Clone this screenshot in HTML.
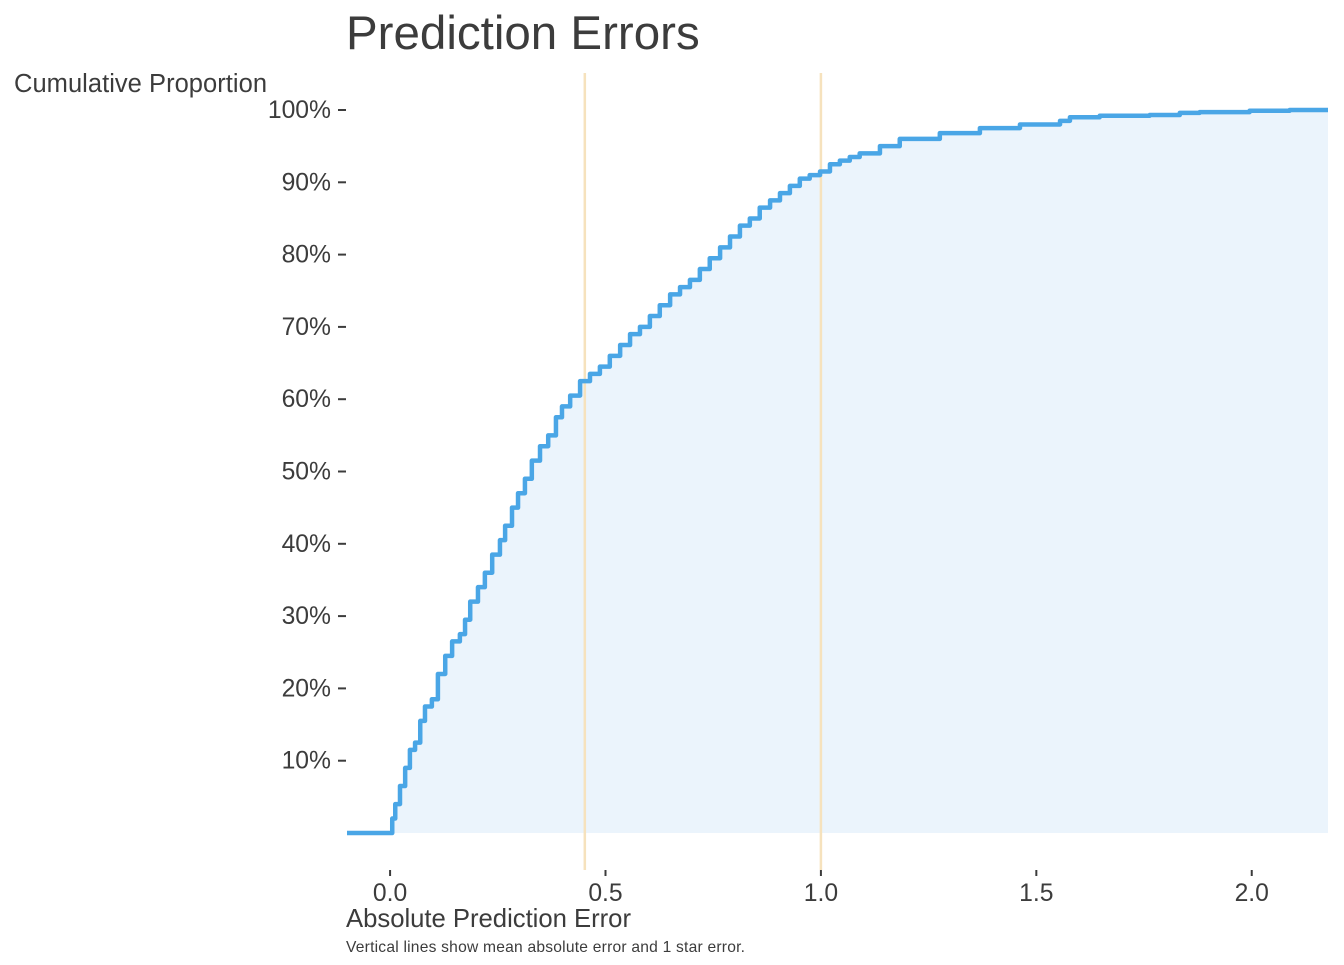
<!DOCTYPE html>
<html><head><meta charset="utf-8"><style>
body{margin:0;background:#fff;}
svg text{font-family:"Liberation Sans",Arial,sans-serif;fill:#3c3c3c;}
</style></head><body>
<svg id="chart" width="1344" height="960">
<text x="346" y="49" font-size="47.5">Prediction Errors</text>
<text x="14" y="92" font-size="25.5" textLength="253">Cumulative Proportion</text>
<text x="346" y="927" font-size="25.7" textLength="285">Absolute Prediction Error</text>
<text x="346" y="952" font-size="15.6" textLength="399">Vertical lines show mean absolute error and 1 star error.</text>
<g id="plot"></g>
</svg>
<script>
const errs=[0.005,0.012,0.023,0.035,0.046,0.058,0.070,0.081,0.097,0.111,0.128,0.144,0.162,0.174,0.186,0.204,0.220,0.237,0.255,0.267,0.283,0.297,0.313,0.329,0.348,0.367,0.385,0.399,0.418,0.441,0.464,0.487,0.510,0.534,0.557,0.580,0.603,0.626,0.650,0.673,0.696,0.719,0.742,0.766,0.789,0.812,0.835,0.858,0.882,0.905,0.928,0.951,0.974,0.998,1.021,1.044,1.067,1.090,1.137,1.183,1.276,1.369,1.462,1.555,1.578,1.647,1.763,1.833,1.879,1.995,2.088];
const props=[2,4,6.5,9,11.5,12.5,15.5,17.5,18.5,22,24.5,26.5,27.5,29.5,32,34,36,38.5,40.5,42.5,45,47,49,51.5,53.5,55,57.5,59,60.5,62.5,63.5,64.5,66,67.5,69,70,71.5,73,74.5,75.5,76.5,78,79.5,81,82.5,84,85,86.5,87.5,88.5,89.5,90.5,91,91.5,92.5,93,93.5,94,95,96,96.8,97.5,98,98.5,99,99.2,99.3,99.6,99.7,99.9,100];
const vlines=[0.452,1.0];
const xTicks=[0,0.5,1.0,1.5,2.0];
const xTickLabels=["0.0","0.5","1.0","1.5","2.0"];
const yTicks=[10,20,30,40,50,60,70,80,90,100];
const xMin=-0.1,xMax=2.177,yTop=100;
const L=347,R=1328,T=110,B=833;
const X=v=>L+(v-xMin)/(xMax-xMin)*(R-L);
const Y=p=>B-p/yTop*(B-T);
const g=document.getElementById('plot');
const NS="http://www.w3.org/2000/svg";
function mk(tag,a){const e=document.createElementNS(NS,tag);for(const k in a)e.setAttribute(k,a[k]);g.appendChild(e);return e;}
let d=`M${X(xMin)},${Y(0)} L${X(errs[0])},${Y(0)}`;
for(let i=0;i<errs.length;i++){
  d+=` L${X(errs[i])},${Y(props[i])}`;
  const nx=i+1<errs.length?errs[i+1]:xMax;
  d+=` L${X(nx)},${Y(props[i])}`;
}
const fd=`M${X(0)},${Y(0)} `+d.slice(d.indexOf('L',d.indexOf('L')+1))+` L${X(xMax)},${Y(0)} Z`;
const area=mk('path',{d:fd,fill:'#ebf4fc',stroke:'none'});


vlines.forEach((v,i)=>{
  const l=mk('line',{x1:X(v),x2:X(v),y1:73,y2:870,stroke:'#f6e2bd','stroke-width':2.5});
  
  
});
const line=mk('path',{d:d,fill:'none',stroke:'#4aa6e6','stroke-width':4.5,'stroke-linejoin':'round'});


yTicks.forEach(t=>{
  const tk=mk('line',{x1:338,x2:346,y1:Y(t),y2:Y(t),stroke:'#3c3c3c','stroke-width':2});
  
  
  const tx=mk('text',{x:331,y:Y(t)+8,'font-size':24.7,'text-anchor':'end'});
  tx.textContent=t+'%';
  
  
});
xTicks.forEach((t,i)=>{
  const tk=mk('line',{x1:X(t),x2:X(t),y1:870,y2:876,stroke:'#3c3c3c','stroke-width':2});
  
  
  const tx=mk('text',{x:X(t),y:901,'font-size':24.7,'text-anchor':'middle'});
  tx.textContent=xTickLabels[i];
  
  
});
</script>
</body></html>
